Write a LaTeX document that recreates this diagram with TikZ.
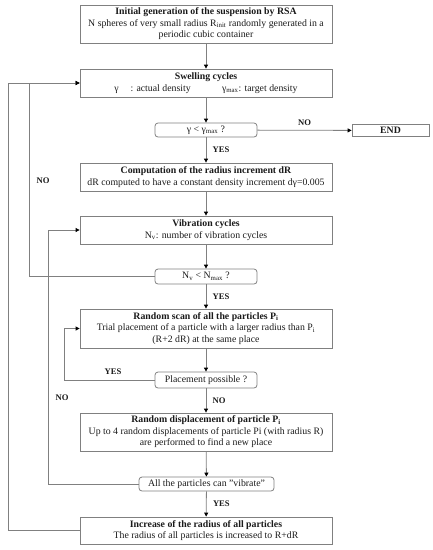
\documentclass[tikz,border=0pt]{standalone}
\usepackage{fontspec}
\setmainfont{Liberation Serif}
\usetikzlibrary{arrows.meta}
\definecolor{ln}{HTML}{808080}
\definecolor{tx}{HTML}{1A1A1A}
\begin{document}
\begin{tikzpicture}[x=1pt,y=-1pt,
  font=\fontsize{9.8}{11.5}\selectfont, text=tx,
  box/.style={draw=ln, line width=0.8pt, rectangle, minimum width=252pt, align=center, inner sep=0pt},
  dec/.style={draw=ln, line width=0.8pt, rectangle, rounded corners=3pt, align=center, inner sep=0pt},
  conn/.style={draw=ln, line width=0.8pt, -{Triangle[length=4pt,width=4pt,color=black]}},
  plain/.style={draw=ln, line width=0.8pt},
  lab/.style={font=\fontsize{8.6}{10}\selectfont\bfseries}]
\useasboundingbox (0,0) rectangle (433,550);
\node[box, minimum height=38pt] (b1) at (206,24) {\textbf{Initial generation of the suspension by RSA}\\N spheres of very small radius R\textsubscript{init} randomly generated in a\\periodic cubic container};
\node[box, minimum height=28pt] (b2) at (206,83) {\textbf{Swelling cycles}\\γ\hspace{1.2em}: actual density\hspace{3.2em}γ\textsubscript{max}: target density};
\node[dec, minimum width=102pt, minimum height=14pt] (d1) at (206,130) {γ < γ\textsubscript{max} ?};
\node[box, minimum width=77pt, minimum height=12pt] (end) at (390.5,130.5) {\textbf{END}};
\node[box, minimum height=28pt] (b3) at (206,177) {\textbf{Computation of the radius increment dR}\\dR computed to have a constant density increment dγ=0.005};
\node[box, minimum height=28pt] (b4) at (206,230) {\textbf{Vibration cycles}\\N\textsubscript{v}: number of vibration cycles};
\node[dec, minimum width=102pt, minimum height=15pt] (d2) at (206,276.5) {N\textsubscript{v} < N\textsubscript{max} ?};
\node[box, minimum height=39pt] (b5) at (206,328.5) {\textbf{Random scan of all the particles P\textsubscript{i}}\\Trial placement of a particle with a larger radius than P\textsubscript{i}\\(R+2 dR) at the same place};
\node[dec, minimum width=102pt, minimum height=16pt] (d3) at (206,380) {Placement possible ?};
\node[box, minimum height=38pt] (b6) at (206,432) {\textbf{Random displacement of particle P\textsubscript{i}}\\Up to 4 random displacements of particle Pi (with radius R)\\are performed to find a new place};
\node[dec, minimum width=135pt, minimum height=14pt] (d4) at (206.5,484) {All the particles can "vibrate"};
\node[box, minimum height=27pt] (b7) at (206,530.5) {\textbf{Increase of the radius of all particles}\\The radius of all particles is increased to R+dR};
\coordinate (c1) at (29,276.5);
\coordinate (c2) at (29,83);
\coordinate (c3) at (64,380);
\coordinate (c4) at (64,328.5);
\coordinate (c5) at (48,484);
\coordinate (c6) at (48,230);
\coordinate (c7) at (8,530.5);
\coordinate (c8) at (8,83);
\draw[conn] (b1) -- (b2);
\draw[conn] (b2) -- (d1);
\draw[conn] (d1) -- node[lab, above=1pt, pos=0.5] (no1) {NO} (end);
\draw[conn] (d1) -- node[lab, right=3pt] (yes1) {YES} (b3);
\draw[conn] (b3) -- (b4);
\draw[conn] (b4) -- (d2);
\draw[plain] (d2.west) -- (c1) -- (c2);
\draw[conn] (c2) -- (b2.west);
\node[lab] (no2) at (43,181) {NO};
\draw[conn] (d2) -- node[lab, right=3pt] (yes2) {YES} (b5);
\draw[conn] (b5) -- (d3);
\draw[plain] (d3.west) -- (c3) -- (c4);
\draw[conn] (c4) -- (b5.west);
\node[lab] (yes3) at (113,372) {YES};
\draw[conn] (d3) -- node[lab, right=3pt] (no3) {NO} (b6);
\draw[conn] (b6) -- (d4);
\draw[plain] (d4.west) -- (c5) -- (c6);
\draw[conn] (c6) -- (b4.west);
\node[lab] (no4) at (62,398) {NO};
\draw[conn] (d4) -- node[lab, right=3pt] (yes4) {YES} (b7);
\draw[plain] (b7.west) -- (c7) -- (c8);
\draw[conn] (c8) -- (b2.west);
\end{tikzpicture}
\end{document}
